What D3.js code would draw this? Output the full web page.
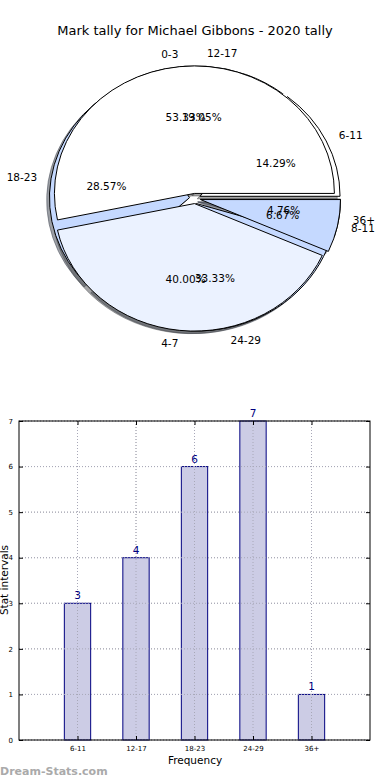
<!DOCTYPE html>
<html><head><meta charset="utf-8">
<script src="https://cdn.jsdelivr.net/npm/d3@7"></script>
<style>body{margin:0;background:#fff}svg{display:block}text{font-family:"DejaVu Sans",sans-serif}</style>
</head><body><svg id="c" width="390" height="780"></svg>
<script>
// ---- data ----
const title = "Mark tally for Michael Gibbons - 2020 tally";
const categories = ["6-11", "12-17", "18-23", "24-29", "36+"];
const counts = [3, 4, 6, 7, 1];
const pie2Categories = ["0-3", "4-7", "8-11"];
const pie2Counts = [8, 6, 1];
const yTicks = [0, 1, 2, 3, 4, 5, 6, 7];
const pie1Colors = ["#ffffff", "#ebf2ff", "#c5d9ff", "#c5d9ff", "#c5d9ff"];
const pie2Colors = ["#ffffff", "#ebf2ff", "#c5d9ff"];

const svg = d3.select("#c");
svg.append("rect").attr("width", 390).attr("height", 780).attr("fill", "#fff");

svg.append("text").attr("x", 195).attr("y", 35).attr("text-anchor", "middle")
  .attr("font-size", 13).attr("fill", "#000").text(title);

// ---- pie (two overlapping pies, matplotlib-like) ----
const cx = 195, cy = 198.5, rx = 140, ry = 127.5, R = 100, explode = 0.04;
const pieGen = d3.pie().sort(null).startAngle(Math.PI / 2).endAngle(Math.PI / 2 - 2 * Math.PI);
const arc = d3.arc().innerRadius(0).outerRadius(R);
const root = svg.append("g").attr("transform", `translate(${cx},${cy}) scale(${rx / R},${ry / R})`);

function layout(vals, cats, cols) {
  return pieGen(vals).map((d, i) => {
    const am = (d.startAngle + d.endAngle) / 2;
    return Object.assign(d, { cat: cats[i], col: cols[i], am,
      ox: explode * R * Math.sin(am), oy: -explode * R * Math.cos(am),
      pct: (d.value / d3.sum(vals) * 100).toFixed(2) + "%" });
  });
}
const p1 = layout(counts, categories, pie1Colors);
const p2 = layout(pie2Counts, pie2Categories, pie2Colors);

function darker(c) { const k = d3.rgb(c); return `rgba(${k.r * .3},${k.g * .3},${k.b * .3},0.5)`; }
// shadows first (below all wedges)
const sh = root.append("g");
[...p1, ...p2].forEach(d => {
  sh.append("path").attr("d", arc(d))
    .attr("transform", `translate(${d.ox - 0.02 * R},${d.oy + 0.02 * R})`)
    .attr("fill", darker(d.col)).attr("stroke", darker(d.col))
    .attr("stroke-width", 1).attr("vector-effect", "non-scaling-stroke");
});
[p1, p2].forEach(p => {
  const g = root.append("g");
  p.forEach(d => {
    g.append("path").attr("d", arc(d)).attr("transform", `translate(${d.ox},${d.oy})`)
      .attr("fill", d.col).attr("stroke", "#000").attr("stroke-width", 1)
      .attr("vector-effect", "non-scaling-stroke").attr("stroke-linejoin", "miter");
  });
});
const tg = svg.append("g").attr("font-size", 10.5).attr("fill", "#000");
[p1, p2].forEach(p => {
  p.forEach(d => {
    const sx = Math.sin(d.am), sy = -Math.cos(d.am);
    const lx = cx + (explode + 1.1) * rx * sx, ly = cy + (explode + 1.1) * ry * sy;
    tg.append("text").attr("x", lx).attr("y", ly).attr("dy", "0.35em")
      .attr("text-anchor", lx > cx ? "start" : "end").text(d.cat);
    const px = cx + (explode + 0.6) * rx * sx, py = cy + (explode + 0.6) * ry * sy;
    tg.append("text").attr("x", px).attr("y", py).attr("dy", "0.35em")
      .attr("text-anchor", "middle").text(d.pct);
  });
});

// ---- bar chart ----
const L = 19, Rr = 370, T = 421, B = 740;
const x = d3.scaleLinear().domain([-1, 5]).range([L, Rr]);
const y = d3.scaleLinear().domain([0, 7]).range([B, T]);
const bw = x(0.45) - x(0);
const bc = svg.append("g");
// grid
bc.selectAll(".gy").data(yTicks).join("line")
  .attr("x1", L).attr("x2", Rr).attr("y1", d => y(d)).attr("y2", d => y(d))
  .attr("stroke", "#b0b0b0").attr("stroke-dasharray", "1,2");
bc.selectAll(".gx").data(categories).join("line")
  .attr("x1", (d, i) => x(i)).attr("x2", (d, i) => x(i)).attr("y1", T).attr("y2", B)
  .attr("stroke", "#b0b0b0").attr("stroke-dasharray", "1,2");
// bars
bc.selectAll(".bar").data(counts).join("rect")
  .attr("x", (d, i) => x(i) - bw / 2).attr("width", bw)
  .attr("y", d => y(d)).attr("height", d => B - y(d))
  .attr("fill", "#cccce5").attr("stroke", "#000080").attr("stroke-width", 1);
// grid over bars (matplotlib grid drawn on top look)
bc.selectAll(".gx2").data(categories).join("line")
  .attr("x1", (d, i) => x(i)).attr("x2", (d, i) => x(i)).attr("y1", T).attr("y2", B)
  .attr("stroke", "#a8a8b8").attr("stroke-dasharray", "1,2");
bc.selectAll(".gy2").data(yTicks).join("line")
  .attr("x1", L).attr("x2", Rr).attr("y1", d => y(d)).attr("y2", d => y(d))
  .attr("stroke", "#a8a8b8").attr("stroke-dasharray", "1,2");
// values
bc.selectAll(".val").data(counts).join("text")
  .attr("x", (d, i) => x(i)).attr("y", d => y(d) - 4).attr("text-anchor", "middle")
  .attr("font-size", 10.5).attr("fill", "#000080").text(d => d);
// frame
bc.append("rect").attr("x", L).attr("y", T).attr("width", Rr - L).attr("height", B - T)
  .attr("fill", "none").attr("stroke", "#000").attr("stroke-width", 1);
// axes with inward ticks
const yAxis = d3.axisLeft(y).tickValues(yTicks).tickSizeInner(-4).tickSizeOuter(0).tickPadding(6).tickFormat(d3.format("d"));
const ya = bc.append("g").attr("transform", `translate(${L},0)`).call(yAxis);
ya.select(".domain").remove();
ya.selectAll("text").attr("font-size", 7).attr("font-family", "DejaVu Sans");
const yr = bc.append("g").attr("transform", `translate(${Rr},0)`)
  .call(d3.axisRight(y).tickValues(yTicks).tickSizeInner(-4).tickSizeOuter(0).tickFormat(""));
yr.select(".domain").remove();
const xAxis = d3.axisBottom(x).tickValues(d3.range(categories.length)).tickSizeInner(-4).tickSizeOuter(0).tickPadding(6)
  .tickFormat(i => categories[i]);
const xa = bc.append("g").attr("transform", `translate(0,${B})`).call(xAxis);
xa.select(".domain").remove();
xa.selectAll("text").attr("font-size", 7).attr("font-family", "DejaVu Sans");
const xt = bc.append("g").attr("transform", `translate(0,${T})`)
  .call(d3.axisTop(x).tickValues(d3.range(categories.length)).tickSizeInner(-4).tickSizeOuter(0).tickFormat(""));
xt.select(".domain").remove();

svg.append("text").attr("x", 195).attr("y", 764).attr("text-anchor", "middle")
  .attr("font-size", 10.5).attr("fill", "#000").text("Frequency");
svg.append("text").attr("transform", "translate(8,580) rotate(-90)").attr("text-anchor", "middle")
  .attr("font-size", 10.5).attr("fill", "#000").text("Stat intervals");
svg.append("text").attr("x", 0).attr("y", 775).attr("font-size", 11).attr("font-weight", "bold")
  .attr("fill", "#aaaaaa").text("Dream-Stats.com");
</script></body></html>
